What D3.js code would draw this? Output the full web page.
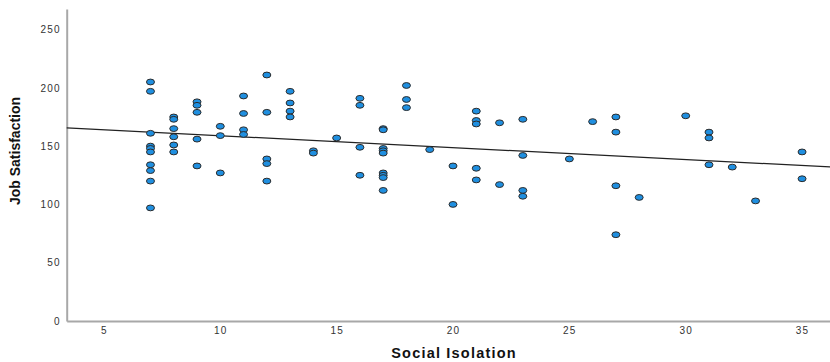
<!DOCTYPE html>
<html>
<head>
<meta charset="utf-8">
<script src="https://cdn.jsdelivr.net/npm/d3@7"></script>
<style>
  body { margin: 0; background: #fff; }
  .tick text { font-family: "Liberation Sans", Arial, sans-serif; font-size: 10px; fill: #333; letter-spacing: 1.2px; }
</style>
</head>
<body>
<div id="chart"></div>
<script>
// Social Isolation (x) vs Job Satisfaction (y), one entry per respondent
const isolation = [
  7,7,7,7,7,7,7,7,7,7,
  8,8,8,8,8,8,
  9,9,9,9,9,
  10,10,10,
  11,11,11,11,
  12,12,12,12,12,
  13,13,13,13,
  14,14,
  15,
  16,16,16,16,
  17,17,17,17,17,17,17,17,17,
  18,18,18,
  19,
  20,20,
  21,21,21,21,21,
  22,22,
  23,23,23,23,
  25,
  26,
  27,27,27,27,
  28,
  30,
  31,31,31,
  32,
  33,
  35,35
];
const satisfaction = [
  205,197,161,150,148,145,134,129,120,97,
  175,173,165,158,151,145,
  188,185,179,156,133,
  167,159,127,
  193,178,164,160,
  211,179,139,135,120,
  197,187,180,175,
  146,144,
  157,
  191,185,149,125,
  165,164,148,146,144,127,125,123,112,
  202,190,183,
  147,
  133,100,
  180,172,169,131,121,
  170,117,
  173,142,112,107,
  139,
  171,
  175,162,116,74,
  106,
  176,
  162,157,134,
  132,
  103,
  145,122
];
const xTicks = [5, 10, 15, 20, 25, 30, 35];
const yTicks = [0, 50, 100, 150, 200, 250];

const W = 830, H = 362;
const svg = d3.select("#chart").append("svg")
  .attr("width", W)
  .attr("height", H);

const x = d3.scaleLinear().domain([3.4, 36.2]).range([66.7, 830]);
const y = d3.scaleLinear().domain([0, 267.6]).range([321, 9]);

// y axis
const yAxis = d3.axisLeft(y).tickValues(yTicks).tickSize(0).tickPadding(6);
const gy = svg.append("g")
  .attr("transform", "translate(" + x.range()[0] + ",0)")
  .call(yAxis);
gy.select(".domain").attr("stroke", "#a8a8a8").attr("stroke-width", 2);

// x axis
const xAxis = d3.axisBottom(x).tickValues(xTicks).tickSize(0).tickPadding(6);
const gx = svg.append("g")
  .attr("transform", "translate(0," + y.range()[0] + ")")
  .call(xAxis);
gx.select(".domain").attr("stroke", "#a8a8a8").attr("stroke-width", 2);

// linear fit (least squares)
const pts = isolation.map((v, i) => [v, satisfaction[i]]);
const mx = d3.mean(isolation), my = d3.mean(satisfaction);
const slope = d3.sum(pts, p => (p[0] - mx) * (p[1] - my)) / d3.sum(pts, p => (p[0] - mx) * (p[0] - mx));
const icpt = my - slope * mx;
const xd = x.domain();

svg.append("line")
  .attr("x1", x(xd[0])).attr("y1", y(icpt + slope * xd[0]))
  .attr("x2", x(xd[1])).attr("y2", y(icpt + slope * xd[1]))
  .attr("stroke", "#222")
  .attr("stroke-width", 1.2);

// points
svg.append("g").selectAll("ellipse")
  .data(pts)
  .enter()
  .append("ellipse")
  .attr("cx", d => x(d[0]))
  .attr("cy", d => y(d[1]))
  .attr("rx", 4)
  .attr("ry", 2.9)
  .attr("fill", "#1f8fe0")
  .attr("stroke", "#2b2b2b")
  .attr("stroke-width", 1);

// axis titles
svg.append("text")
  .attr("x", 454).attr("y", 358)
  .attr("text-anchor", "middle")
  .attr("font-family", "Liberation Sans, Arial, sans-serif")
  .attr("font-weight", "bold")
  .attr("font-size", "14.5px")
  .attr("letter-spacing", "1.2px")
  .attr("fill", "#111")
  .text("Social Isolation");

svg.append("text")
  .attr("transform", "translate(20,151) rotate(-90)")
  .attr("text-anchor", "middle")
  .attr("font-family", "Liberation Sans, Arial, sans-serif")
  .attr("font-weight", "bold")
  .attr("font-size", "14px")
  .attr("fill", "#111")
  .text("Job Satisfaction");
</script>
</body>
</html>
